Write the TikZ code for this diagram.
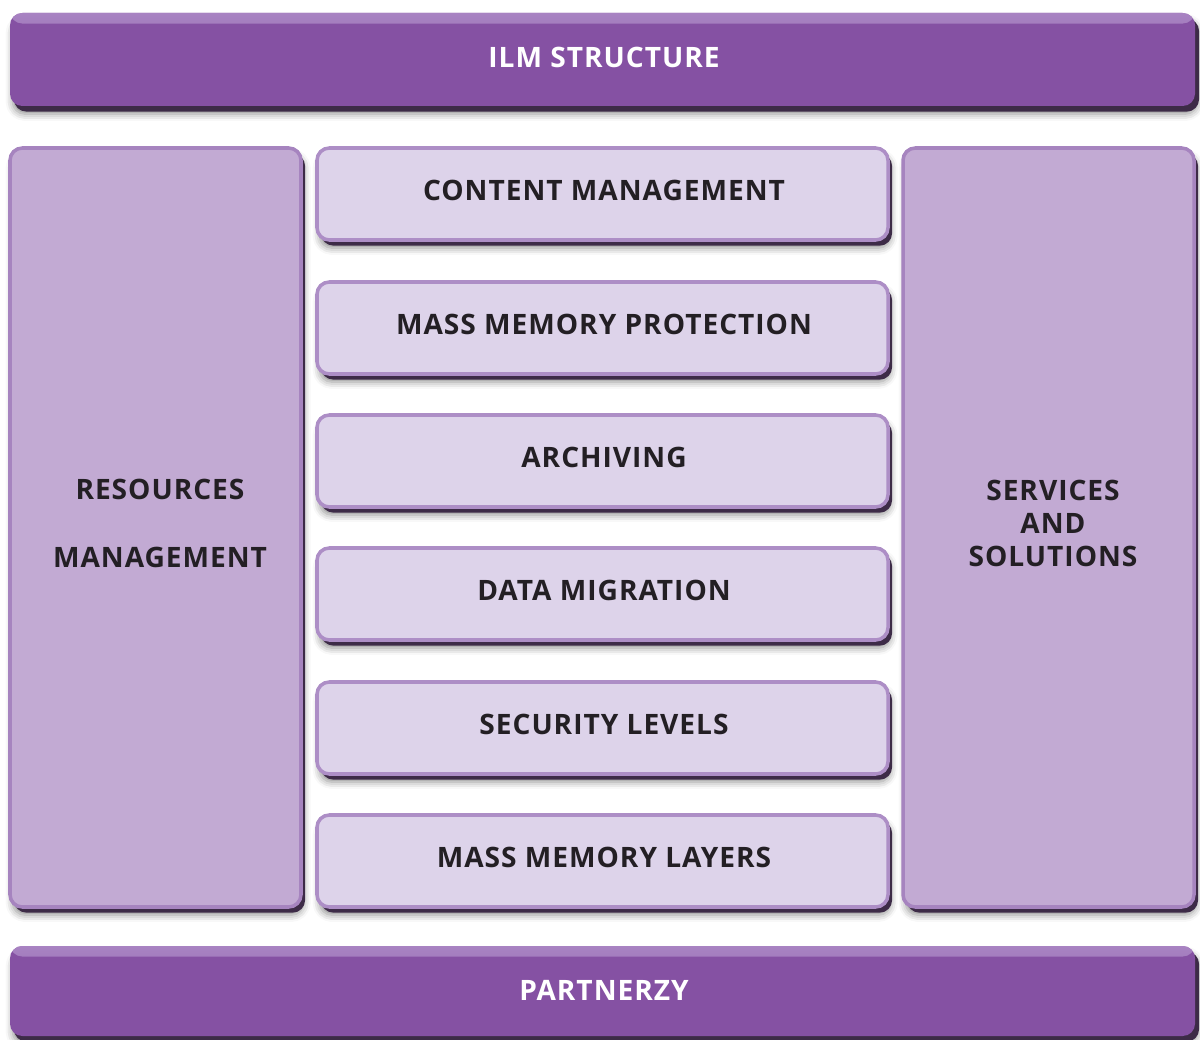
\documentclass[tikz,border=0pt]{standalone}
\usepackage{fontspec}
\setmainfont{Open Sans}
\usetikzlibrary{shadows,shadows.blur}
\definecolor{barfill}{HTML}{8551A3}
\definecolor{barhi}{HTML}{A883C2}
\definecolor{colfill}{HTML}{C2AAD3}
\definecolor{colring}{HTML}{A684BF}
\definecolor{midfill}{HTML}{DDD3EA}
\definecolor{midring}{HTML}{AD8EC6}
\definecolor{edgedark}{HTML}{3D2B47}
\definecolor{txtdark}{HTML}{231F24}
\tikzset{
  lbl/.style={font=\fontsize{16}{20}\selectfont\bfseries\addfontfeatures{LetterSpace=3.5}},
  boxbase/.style={rectangle, rounded corners=7pt, inner sep=0pt, lbl,
    blur shadow={shadow xshift=1.5pt, shadow yshift=-4.5pt, shadow blur radius=4pt, shadow opacity=45},
    general shadow={fill=edgedark, shadow xshift=2.3pt, shadow yshift=-3.2pt}},
  barbox/.style={boxbase, fill=barfill, text=white,
    path picture={\shade[top color=barhi, bottom color=barfill]
      (path picture bounding box.north west) rectangle ([yshift=-6pt]path picture bounding box.north east);}},
  colbox/.style={boxbase, fill=colfill, draw=colring, line width=2pt, text=txtdark, align=center},
  midbox/.style={boxbase, fill=midfill, draw=midring, line width=2pt, text=txtdark,
    minimum width=571*0.02cm, minimum height=92*0.02cm},
  dtext/.style={lbl, text=txtdark, align=center},
}
\begin{document}
\begin{tikzpicture}[x=0.02cm,y=-0.02cm]
\useasboundingbox (0,0) rectangle (1200,1040);
\node[barbox, minimum width=1185*0.02cm, minimum height=93*0.02cm] (ilm) at (602.5,59.5) {};
\node[lbl, text=white] (ilmtext) at (604,57) {ILM STRUCTURE};
\node[colbox, minimum width=291*0.02cm, minimum height=759*0.02cm] (res) at (155.5,527.5) {};
\node[dtext] (restext) at (160,523.5) {RESOURCES\\[18.5pt]MANAGEMENT};
\node[colbox, minimum width=291*0.02cm, minimum height=759*0.02cm] (serv) at (1048.5,527.5) {};
\node[dtext, font=\fontsize{16}{19}\selectfont\bfseries\addfontfeatures{LetterSpace=3.5}] (servtext) at (1053,523.5) {SERVICES\\AND\\SOLUTIONS};
\node[midbox] (cm) at (602.5,194) {};
\node[midbox] (mmp) at (602.5,328) {};
\node[midbox] (arch) at (602.5,461) {};
\node[midbox] (dm) at (602.5,594) {};
\node[midbox] (sl) at (602.5,728) {};
\node[midbox] (mml) at (602.5,861) {};
\node[dtext] (cmt) at (604,190) {CONTENT MANAGEMENT};
\node[dtext] (mmpt) at (604,324) {MASS MEMORY PROTECTION};
\node[dtext] (archt) at (604,457) {ARCHIVING};
\node[dtext] (dmt) at (604,590) {DATA MIGRATION};
\node[dtext] (slt) at (604,724) {SECURITY LEVELS};
\node[dtext] (mmlt) at (604,857) {MASS MEMORY LAYERS};
\node[barbox, minimum width=1185*0.02cm, minimum height=90*0.02cm] (part) at (602.5,991) {};
\node[lbl, text=white] (parttext) at (604,990) {PARTNERZY};
\end{tikzpicture}
\end{document}
